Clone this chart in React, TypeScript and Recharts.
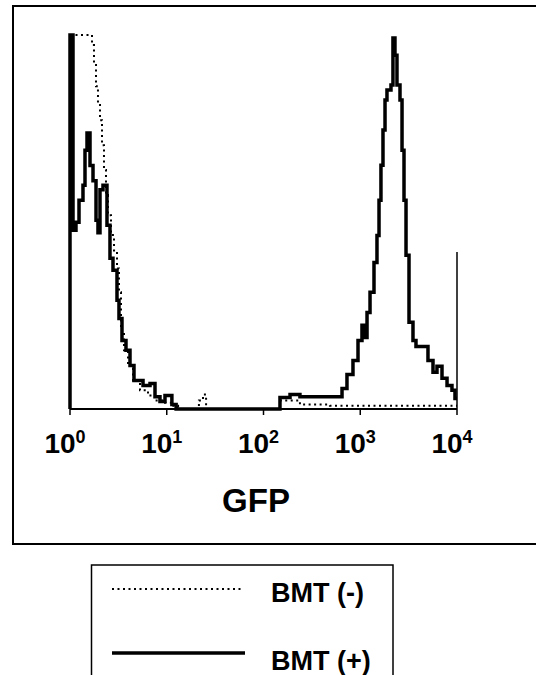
import { LineChart, Line, XAxis, YAxis, ReferenceLine } from "recharts";

// GFP channel intensity (log axis) and event counts (% of max)
const minusGfp = [
  1, 1, 1.688, 1.77, 1.857, 1.946, 2.042, 2.142, 2.245, 2.355, 2.47, 2.653, 2.85,
  3.06, 3.208, 3.366, 3.614, 3.979, 4.479, 5.291, 6.397, 7.56, 9.59, 11.3, 13.1,
  21.5, 23.7, 25.5, 148, 238, 486, 10000,
];
const minusCount = [
  0, 100, 97.3, 92, 86.3, 81.3, 77.2, 70.5, 63.9, 57.2, 51.8, 46.5, 42.4,
  37.6, 31.2, 21, 15.7, 11.6, 7.6, 5, 3.6, 2.3, 1.7, 0.9, 0,
  2.3, 3.9, 0, 2.3, 1.2, 0.9, 0.9,
];

const plusGfp = [
  1, 1, 1.074, 1.153, 1.239, 1.362, 1.429, 1.499, 1.61, 1.729, 1.857, 1.946, 2.042,
  2.193, 2.411, 2.59, 2.782, 3.06, 3.208, 3.446, 3.79, 4.17, 4.585, 5.685, 6.715,
  7.56, 8.51, 9.59, 11.3, 12.5, 148, 188, 238, 648, 729, 841, 948, 1042, 1119,
  1175, 1262, 1387, 1489, 1563, 1637, 1718, 1803, 1889, 2078, 2178, 2285, 2397,
  2575, 2703, 2833, 2972, 3191, 3508, 3767, 5012, 5649, 6209, 6998, 7889, 8872,
  9530, 10000,
];
const plusCount = [
  0, 100, 47.8, 49.9, 55.8, 59.8, 69.2, 73.8, 65.1, 61, 50.5, 47.1, 58.6,
  59.8, 49.1, 40.3, 37.1, 29.1, 24.2, 18.3, 15.7, 11.6, 7.6, 6.3, 6.8,
  3.3, 2, 3.6, 1.2, 0, 3.1, 3.9, 3.3, 5.5, 9.2, 13, 18.3, 22.4, 19.1,
  25.8, 31.2, 39.2, 46.4, 55.8, 65.2, 74.6, 82.6, 85.3, 86.6, 99.2, 94.6, 86.6,
  82.6, 69.2, 55.8, 41.1, 23.2, 18.3, 16.7, 13, 9.8, 11.4, 8.2, 6.3, 5,
  2.8, 2.8,
];

const decadeTicks = [1, 10, 100, 1000, 10000];
const seriesNames = ["BMT (-)", "BMT (+)"];

const minusData = minusGfp.map((gfp, i) => ({ gfp, count: minusCount[i] }));
const plusData = plusGfp.map((gfp, i) => ({ gfp, count: plusCount[i] }));

const FONT = "'Liberation Sans', Arial, sans-serif";

const LogTick = (props: any) => {
  const { x, y, payload } = props;
  const exp = Math.round(Math.log10(payload.value));
  return (
    <text
      x={x - 5}
      y={y + 36}
      textAnchor="middle"
      fontFamily={FONT}
      fontWeight="bold"
      fontSize={28}
      fill="#000"
    >
      10
      <tspan dy={-10} fontSize={18}>
        {exp}
      </tspan>
    </text>
  );
};

export default function App() {
  return (
    <div
      style={{
        position: "absolute",
        left: 0,
        top: 0,
        width: 536,
        height: 675,
        overflow: "hidden",
        background: "#fff",
      }}
    >
      <svg
        width={536}
        height={675}
        style={{ position: "absolute", left: 0, top: 0 }}
        fontFamily={FONT}
      >
        {/* frame around the plot */}
        <rect x={13} y={6} width={600} height={538} fill="none" stroke="#000" strokeWidth={2} />
        <text x={256} y={512} textAnchor="middle" fontSize={33} fontWeight="bold">
          GFP
        </text>

        {/* legend */}
        <rect x={91.5} y={565} width={301.5} height={140} fill="none" stroke="#000" strokeWidth={1.5} />
        <line x1={112} y1={589} x2={243} y2={589} stroke="#000" strokeWidth={2} strokeDasharray="2 3.5" />
        <text x={271} y={602} fontSize={27} fontWeight="bold">
          {seriesNames[0]}
        </text>
        <line x1={112} y1={653} x2={245} y2={653} stroke="#000" strokeWidth={3.5} />
        <text x={271} y={670} fontSize={27} fontWeight="bold">
          {seriesNames[1]}
        </text>
      </svg>

      <div style={{ position: "absolute", left: 0, top: 0 }}>
        <LineChart width={536} height={469} margin={{ top: 35, right: 79, left: 70, bottom: 0 }}>
          <XAxis
            dataKey="gfp"
            type="number"
            scale="log"
            domain={[1, 10000]}
            ticks={decadeTicks}
            tick={<LogTick />}
            height={60}
            tickSize={6}
            axisLine={{ stroke: "#000", strokeWidth: 2 }}
            tickLine={{ stroke: "#000", strokeWidth: 1.5 }}
          />
          <YAxis type="number" domain={[0, 100]} hide />
          <ReferenceLine
            segment={[
              { x: 10000, y: 0 },
              { x: 10000, y: 42 },
            ]}
            stroke="#000"
            strokeWidth={1.5}
          />
          <Line
            data={minusData}
            dataKey="count"
            name={seriesNames[0]}
            type="stepAfter"
            stroke="#000"
            strokeWidth={2}
            strokeDasharray="2 3.5"
            dot={false}
            isAnimationActive={false}
          />
          <Line
            data={plusData}
            dataKey="count"
            name={seriesNames[1]}
            type="stepAfter"
            stroke="#000"
            strokeWidth={3.5}
            dot={false}
            isAnimationActive={false}
          />
        </LineChart>
      </div>
    </div>
  );
}
